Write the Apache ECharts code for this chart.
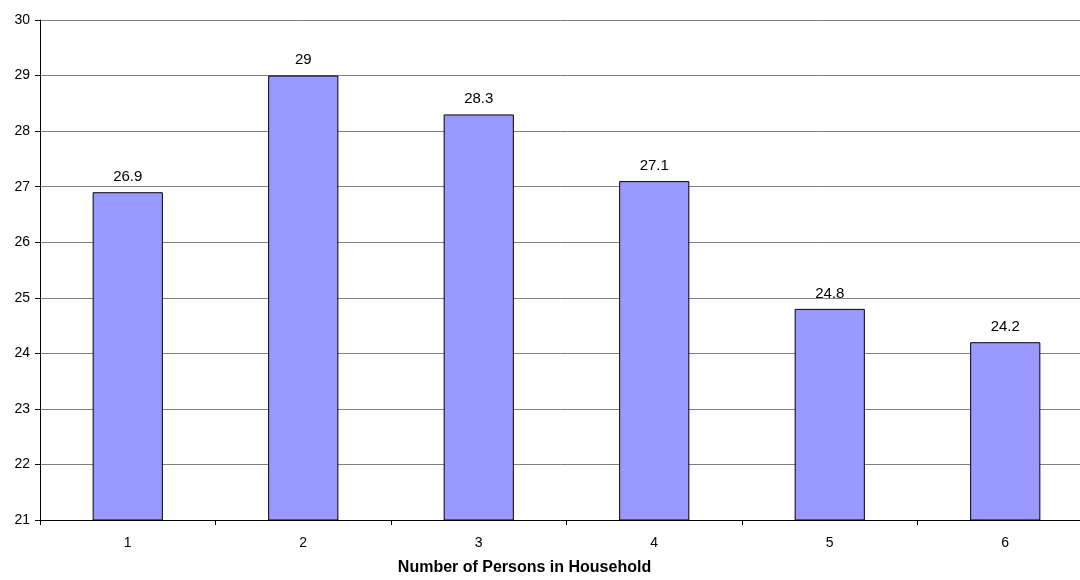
<!DOCTYPE html>
<html>
<head>
<meta charset="utf-8">
<script src="https://cdn.jsdelivr.net/npm/echarts@6/dist/echarts.min.js"></script>
<style>
html,body{margin:0;padding:0;background:#fff;}
#chart{width:1080px;height:580px;}
</style>
</head>
<body>
<div id="chart"></div>
<script>
// Household size categories and the measured values
const categories = ['1', '2', '3', '4', '5', '6'];
const values = [26.9, 29, 28.3, 27.1, 24.8, 24.2];
const yMin = 21;
const yMax = 30;
const yStep = 1;
const xAxisTitle = 'Number of Persons in Household';

const font = '"Liberation Sans", Arial, sans-serif';
const chart = echarts.init(document.getElementById('chart'), null, { renderer: 'canvas' });

chart.setOption({
  animation: false,
  backgroundColor: '#ffffff',
  // plot area runs slightly past the right edge of the canvas
  grid: { left: 40, top: 20, width: 1053, height: 500, containLabel: false, outerBoundsMode: 'none' },
  xAxis: {
    type: 'category',
    data: categories,
    name: xAxisTitle,
    nameLocation: 'middle',
    nameGap: 40,
    nameTextStyle: { fontFamily: font, fontSize: 16, fontWeight: 'bold', color: '#000', padding: [0, 84, 0, 0] },
    axisLine: { lineStyle: { color: '#000', width: 1 } },
    axisTick: { show: true, alignWithLabel: false, length: 5, lineStyle: { color: '#000' } },
    axisLabel: { fontFamily: font, fontSize: 14, color: '#000', margin: 16 }
  },
  yAxis: {
    type: 'value',
    min: yMin,
    max: yMax,
    interval: yStep,
    axisLine: { show: true, lineStyle: { color: '#000', width: 1 } },
    axisTick: { show: true, length: 5, lineStyle: { color: '#000' } },
    axisLabel: { fontFamily: font, fontSize: 14, color: '#000', margin: 10 },
    splitLine: { show: true, lineStyle: { color: '#808080', width: 1 } }
  },
  series: [{
    type: 'bar',
    data: values,
    barWidth: '40%',
    itemStyle: { color: '#9999ff', borderColor: '#000', borderWidth: 1 },
    label: {
      show: true,
      position: 'top',
      distance: 8,
      fontFamily: font,
      fontSize: 15,
      color: '#000'
    }
  }]
});
</script>
</body>
</html>
